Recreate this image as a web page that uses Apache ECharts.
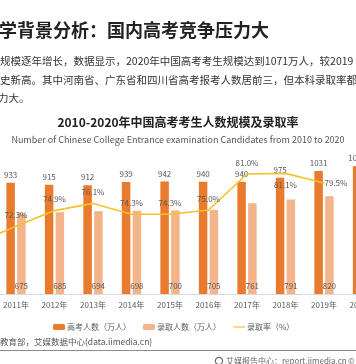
<!DOCTYPE html>
<html>
<head>
<meta charset="utf-8">
<script src="https://cdn.jsdelivr.net/npm/echarts@6/dist/echarts.min.js"></script>
<style>
html,body{margin:0;padding:0;background:#fff;}
#chart{width:356px;height:364px;}
</style>
</head>
<body>
<div id="chart"></div>
<script>
const years = ['2010年','2011年','2012年','2013年','2014年','2015年','2016年','2017年','2018年','2019年','2020年'];
const candidates = [946, 933, 915, 912, 939, 942, 940, 940, 975, 1031, 1071];
const admitted = [657, 675, 685, 694, 698, 700, 705, 761, 791, 820, null];
const rates = [69.5, 72.3, 74.9, 76.1, 74.3, 74.3, 75.0, 81.0, 81.1, 79.5, null];
const seriesNames = ['高考人数（万人）', '录取人数（万人）', '录取率（%）'];

const FONT = '"Noto Sans CJK SC", "Noto Sans", sans-serif';
const rateLabelPos = ['top','top','top','top','top','top','top','top','bottom','right','top'];

const chart = echarts.init(document.getElementById('chart'));
const txt = (x, y, text, size, color, weight, align) => ({
  type: 'text', x: x, y: y, silent: true,
  style: { text: text, fontSize: size, fontFamily: FONT, fill: color, fontWeight: weight || 'normal',
           align: align || 'left', verticalAlign: 'middle' }
});

chart.setOption({
  backgroundColor: '#fff',
  animation: false,
  grid: { left: -41.75, right: -25.75, top: 144, bottom: 70, containLabel: false, outerBoundsMode: 'none' },
  legend: {
    left: 53, top: 323, padding: 0, itemWidth: 12, itemHeight: 6, itemGap: 12,
    textStyle: { fontSize: 8, color: '#595959', fontFamily: FONT, padding: [0,0,0,-3] },
    data: [
      { name: seriesNames[0] },
      { name: seriesNames[1] },
      { name: seriesNames[2], icon: 'path://M0,0 L16,0 L16,1.6 L0,1.6 Z', itemStyle: { color: '#F5C22A' } }
    ]
  },
  xAxis: {
    type: 'category', data: years,
    axisLine: { lineStyle: { color: '#d9d9d9' } },
    axisTick: { show: false },
    axisLabel: { interval: 0, fontSize: 8, color: '#595959', fontFamily: FONT, margin: 7 }
  },
  yAxis: [
    { type: 'value', min: 0, max: 1257, show: false, splitLine: { show: false } },
    { type: 'value', min: 61, max: 86, show: false, splitLine: { show: false } }
  ],
  series: [
    {
      name: seriesNames[0], type: 'bar', data: candidates, barWidth: 8.5, barGap: '27%',
      itemStyle: { color: '#E97B2F' },
      label: { show: true, position: 'top', distance: 4, fontSize: 8, color: '#595959', fontFamily: FONT }
    },
    {
      name: seriesNames[1], type: 'bar', data: admitted, barWidth: 8.5,
      itemStyle: { color: '#F3B48A' },
      label: { show: true, position: 'insideBottom', distance: 4, fontSize: 8, color: '#595959', fontFamily: FONT }
    },
    {
      name: seriesNames[2], type: 'line', yAxisIndex: 1,
      data: rates.map((v, i) => ({ value: v, label: { position: rateLabelPos[i], distance: rateLabelPos[i] === 'right' ? 0 : 7 } })),
      symbol: 'circle', symbolSize: 1,
      lineStyle: { color: '#F5C22A', width: 1.6 },
      itemStyle: { color: '#F5C22A' },
      label: { show: true, fontSize: 8, color: '#595959', fontFamily: FONT,
               formatter: p => p.value == null ? '' : Number(p.value).toFixed(1) + '%' }
    }
  ],
  graphic: [
    txt(-1, 30, '学背景分析：国内高考竞争压力大', 18, '#222', 'bold'),
    txt(0, 61, '规模逐年增长，数据显示，2020年中国高考考生规模达到1071万人，较2019', 10.5, '#333'),
    txt(0, 80, '史新高。其中河南省、广东省和四川省高考报考人数居前三，但本科录取率都', 10.5, '#333'),
    txt(-2, 98, '力大。', 10.5, '#333'),
    txt(178, 122, '2010-2020年中国高考考生人数规模及录取率', 12, '#222', 'bold', 'center'),
    txt(178, 140, 'Number of Chinese College Entrance examination Candidates from 2010 to 2020', 9, '#555', 'normal', 'center'),
    txt(0, 342, '教育部，艾媒数据中心(data.iimedia.cn)', 8.5, '#555'),
    { type: 'line', silent: true, shape: { x1: 0, y1: 350.5, x2: 356, y2: 350.5 }, style: { stroke: '#8c8c8c', lineWidth: 1 } },
    { type: 'circle', silent: true, shape: { cx: 219, cy: 361, r: 3.6 }, style: { fill: '#fff', stroke: '#666', lineWidth: 1.2 } },
    txt(226, 361, '艾媒报告中心：report.iimedia.cn', 8, '#666'),
    txt(348, 361, '©', 8, '#666')
  ]
});
</script>
</body>
</html>
